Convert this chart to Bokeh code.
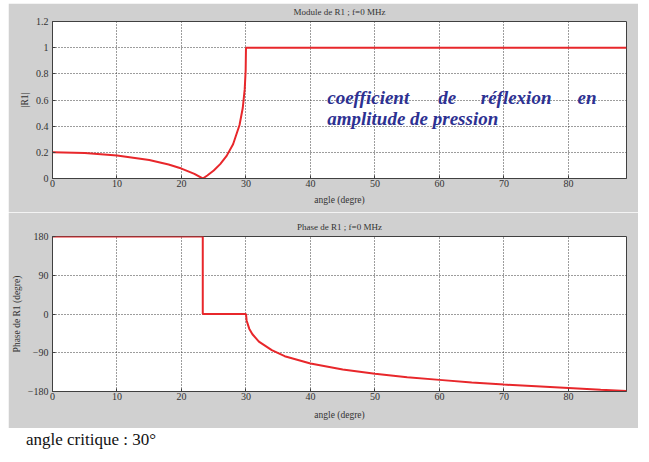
from bokeh.plotting import figure
from bokeh.layouts import column
from bokeh.models import FixedTicker, Title, Div, ColumnDataSource
from bokeh.core.properties import value
from bokeh.embed import file_html
from bokeh.resources import INLINE

# ---- data ----
mod_angle = [0, 5, 10, 15, 18, 20, 22, 23.3, 24, 25, 26, 27, 28, 29, 29.5, 29.8, 29.95, 30, 40, 50, 60, 70, 80, 89]
mod_value = [0.200, 0.194, 0.176, 0.141, 0.107, 0.076, 0.035, 0.0, 0.023, 0.061, 0.110, 0.173, 0.262, 0.409, 0.539, 0.681, 0.826, 1.0, 1.0, 1.0, 1.0, 1.0, 1.0, 1.0]

ph_angle = [0, 23.3, 23.3, 30, 30.1, 30.5, 31, 32, 34, 36, 40, 45, 50, 55, 60, 65, 70, 75, 80, 85, 89]
ph_value = [180, 180, 0, 0, -15, -34, -47, -64, -84, -98, -115, -129, -139, -147, -153, -159, -164, -168, -172, -176, -179]

x_ticks = [0, 10, 20, 30, 40, 50, 60, 70, 80]
mod_ticks = [0, 0.2, 0.4, 0.6, 0.8, 1, 1.2]
mod_tick_labels = ["0", "0.2", "0.4", "0.6", "0.8", "1", "1.2"]
ph_ticks = [-180, -90, 0, 90, 180]

title_top = "Module de R1 ; f=0 MHz"
title_bot = "Phase de R1 ; f=0 MHz"
xlabel = "angle (degre)"
ylabel_top = "|R1|"
ylabel_bot = "Phase de R1 (degre)"
note_words = ["coefficient", "de", "réflexion", "en"]
note_word_x = [42.6, 59.8, 66.4, 81.4]
note_line2 = "amplitude de pression"
footer = "angle critique : 30°"

GRAY = "#d0d0d0"
RED = "#e8272b"
SERIF = "Liberation Serif"


def style(p, yt, ylab, xlab_standoff, labels=None):
    p.xaxis.ticker = FixedTicker(ticks=x_ticks)
    p.yaxis.ticker = FixedTicker(ticks=yt)
    if labels:
        p.yaxis.major_label_overrides = {t: l for t, l in zip(yt, labels)}
    for ax in (p.xaxis, p.yaxis):
        ax.major_tick_in = 3
        ax.major_tick_out = 0
        ax.minor_tick_line_color = None
        ax.axis_line_color = "#404040"
        ax.major_tick_line_color = "#404040"
        ax.major_label_text_font = SERIF
        ax.major_label_text_font_size = "10px"
        ax.major_label_text_color = "#333333"
        ax.axis_label_text_font = SERIF
        ax.axis_label_text_font_size = "9.5px"
        ax.axis_label_text_font_style = "normal"
        ax.axis_label_text_color = "#333333"
    p.xaxis.major_label_standoff = 1
    p.yaxis.major_label_standoff = 4
    p.xaxis.axis_label = xlabel
    p.xaxis.axis_label_standoff = xlab_standoff
    p.yaxis.axis_label = ylab
    p.yaxis.axis_label_standoff = 3
    p.grid.grid_line_color = "#3a3a3a"
    p.grid.grid_line_dash = "1 2"
    p.grid.grid_line_width = 1
    p.outline_line_color = "#404040"
    p.outline_line_width = 1


def add_title(p, text):
    # small spacer title next to the frame lifts the real title a few pixels
    p.add_layout(Title(text="\u00a0", text_font_size="3px", standoff=0,
                       background_fill_color=None), "above")
    p.add_layout(Title(text=text, align="center", text_font=SERIF, text_font_size="9px",
                       text_font_style="normal", text_color="#333333", standoff=0), "above")


p1 = figure(width=630, height=209, x_range=(0, 89), y_range=(0, 1.2),
            output_backend="svg", toolbar_location=None,
            min_border_left=44, min_border_right=12, min_border_top=18, min_border_bottom=34,
            background_fill_color="white", border_fill_color=GRAY)
style(p1, mod_ticks, ylabel_top, 5, mod_tick_labels)
add_title(p1, title_top)
p1.line(mod_angle, mod_value, line_color=RED, line_width=2)

src_words = ColumnDataSource(dict(x=note_word_x, y=[0.619] * len(note_words), t=note_words))
p1.text(x="x", y="y", text="t", source=src_words, text_font=value(SERIF),
        text_font_size="19px", text_font_style="bold italic", text_color="#2d3192",
        text_baseline="alphabetic")
p1.text(x=[42.6], y=[0.459], text=[note_line2], text_font=value(SERIF),
        text_font_size="19px", text_font_style="bold italic", text_color="#2d3192",
        text_baseline="alphabetic")

p2 = figure(width=630, height=216, x_range=(0, 89), y_range=(-180, 180),
            output_backend="svg", toolbar_location=None,
            min_border_left=44, min_border_right=12, min_border_top=24, min_border_bottom=37,
            background_fill_color="white", border_fill_color=GRAY)
style(p2, ph_ticks, ylabel_bot, 7)
add_title(p2, title_bot)
p2.line(ph_angle, ph_value, line_color=RED, line_width=2)

div = Div(text=footer, width=630, height=26, margin=(0, 0, 0, 0),
          styles={"font-family": SERIF, "font-size": "17px", "padding-left": "18px",
                  "color": "#111111"})

layout = column(p1, p2, div, spacing=0, margin=(3, 0, 0, 8))
open("out.html", "w").write(file_html(layout, INLINE))
